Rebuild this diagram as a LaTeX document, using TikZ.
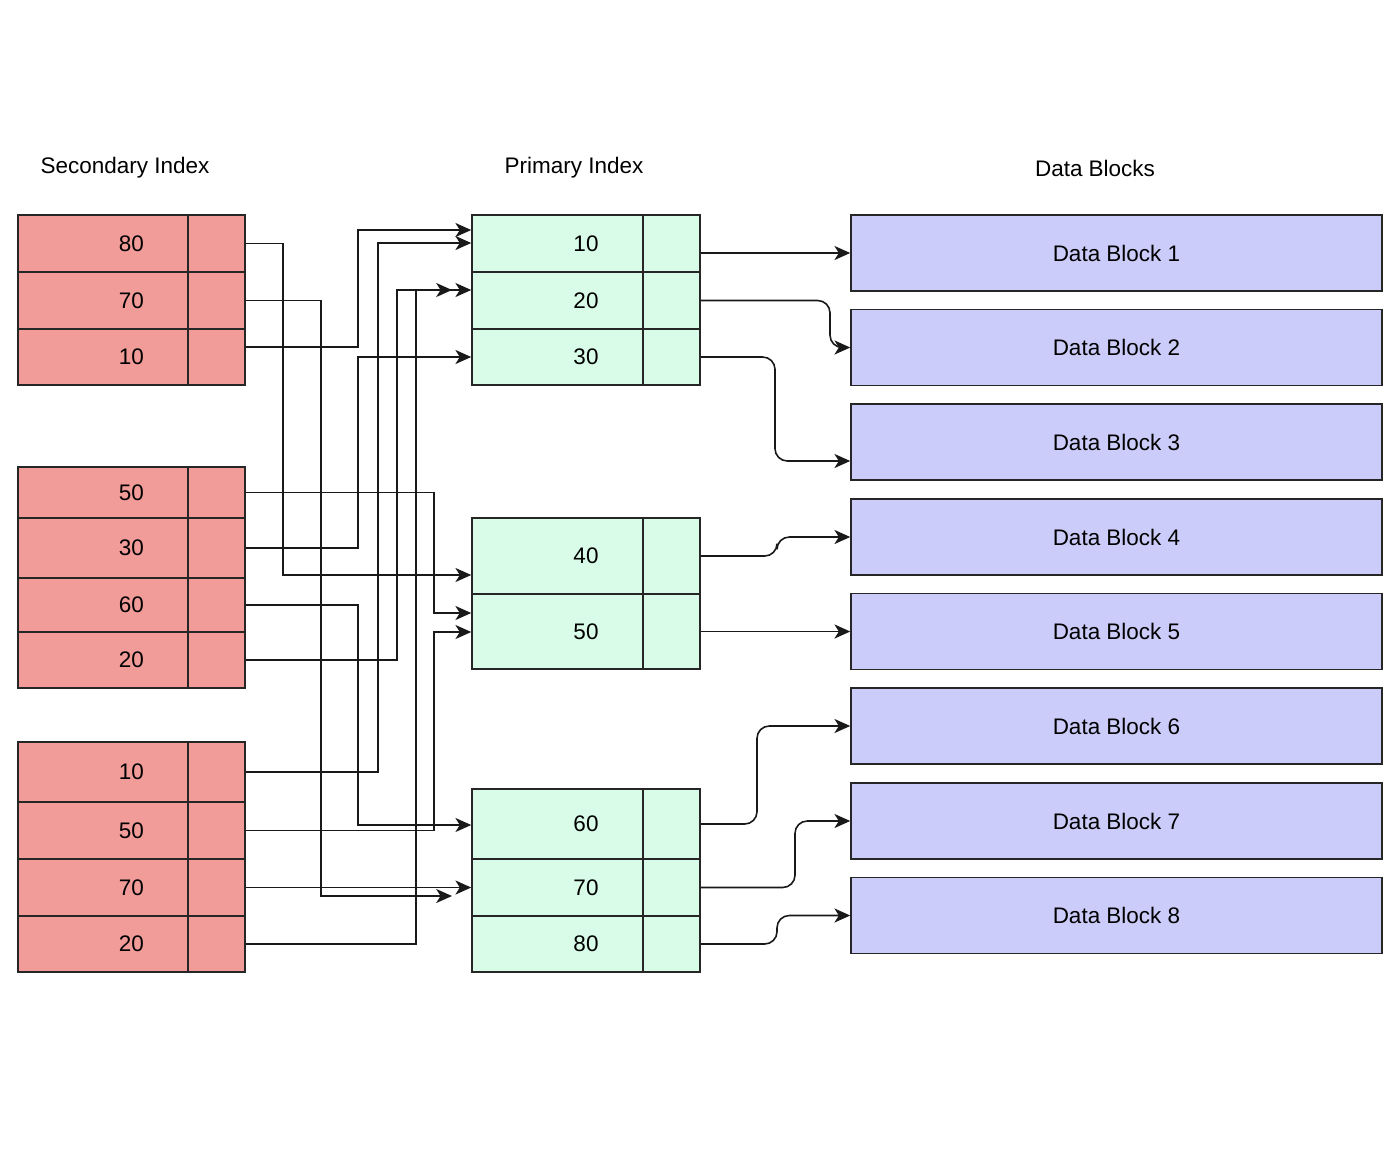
\documentclass[tikz,border=0pt]{standalone}
\usepackage{fontspec}
\setmainfont{Liberation Sans}
\usetikzlibrary{arrows.meta}
\definecolor{secred}{HTML}{F19C99}
\definecolor{prigreen}{HTML}{D9FCE8}
\definecolor{datablue}{HTML}{CCCCFA}
\begin{document}
\begin{tikzpicture}
  [
  x=0.02cm, y=-0.02cm,
  font=\fontsize{12.8}{15}\selectfont, line width=0.9pt,
  seckey/.style={rectangle, inner sep=0pt, minimum width=227*0.2mm, draw=black!85, fill=secred},
  secptr/.style={rectangle, inner sep=0pt, minimum width=57*0.2mm, draw=black!85, fill=secred},
  prikey/.style={rectangle, inner sep=0pt, minimum width=228*0.2mm, draw=black!85, fill=prigreen},
  priptr/.style={rectangle, inner sep=0pt, minimum width=57*0.2mm, draw=black!85, fill=prigreen},
  datablock/.style={rectangle, inner sep=0pt, minimum width=531*0.2mm, minimum height=76*0.2mm, draw=black!85, fill=datablue},
  heading/.style={inner sep=0pt},
  link/.style={draw=black!90, line width=0.9pt, -{Stealth[length=9pt, width=8pt, inset=2.5pt]}},
  elbow/.style={link, rounded corners=7pt}
  ]
\useasboundingbox (0,0) rectangle (1400,1150);

\node[heading] (sechead) at (125,168) {Secondary Index};
\node[heading] (prihead) at (574,168) {Primary Index};
\node[heading] (datahead) at (1095,168) {Data Blocks};

% secondary index
\foreach \k/\y/\h in {80/243.5/57, 70/300.5/57, 10/357/56} {
  \node[seckey, minimum height=\h*0.2mm] (sa\k) at (131.5,\y) {\k};
  \node[secptr, minimum height=\h*0.2mm] (sa\k p) at (216.5,\y) {};
}
\foreach \k/\y/\h in {50/492.5/51, 30/548/60, 60/605/54, 20/660/56} {
  \node[seckey, minimum height=\h*0.2mm] (sb\k) at (131.5,\y) {\k};
  \node[secptr, minimum height=\h*0.2mm] (sb\k p) at (216.5,\y) {};
}
\foreach \k/\y/\h in {10/772/60, 50/830.5/57, 70/887.5/57, 20/944/56} {
  \node[seckey, minimum height=\h*0.2mm] (sc\k) at (131.5,\y) {\k};
  \node[secptr, minimum height=\h*0.2mm] (sc\k p) at (216.5,\y) {};
}

% primary index
\foreach \k/\y/\h in {10/243.5/57, 20/300.5/57, 30/357/56, 40/556/76, 50/631.5/75, 60/824/70, 70/887.5/57, 80/944/56} {
  \node[prikey, minimum height=\h*0.2mm] (p\k) at (586,\y) {\k};
  \node[priptr, minimum height=\h*0.2mm] (p\k p) at (671.5,\y) {};
}

% data blocks
\foreach \b/\y in {1/253, 2/347.5, 3/442, 4/537, 5/631.5, 6/726, 7/821, 8/915.5} {
  \node[datablock] (db\b) at (1116.5,\y) {Data Block \b};
}

\coordinate (s70tip) at (452,896);
\coordinate (s20tip) at (452,290);

\draw[link] (sa80.east) -| (283,575) -- (p40.west |- 0,575);
\draw[link] (sa70.east) -| (321,896) -- (s70tip);
\draw[link] (sa10.east |- 0,347) -| (358,230) -- (p10.west |- 0,230);
\draw[link] (sb50.east) -| (434,613) -- (p50.west |- 0,613);
\draw[link] (sb30.east) -| (358,357) -- (p30.west);
\draw[link] (sb60.east) -| (358,825) -- (p60.west |- 0,825);
\draw[link] (sb20.east) -| (397,290) -- (s20tip);
\draw[link] (sc10.east) -| (378,243) -- (p10.west |- 0,243);
\draw[link] (sc50.east) -| (434,632) -- (p50.west |- 0,632);
\draw[link] (sc70.east) -- (p70.west |- sc70.east);
\draw[link] (sc20.east) -| (416,290) -- (p20.west |- 0,290);

\draw[link] (p10.east |- db1.west) -- (db1.west);
\draw[elbow] (p20.east) -| (830,347.5) -- (db2.west);
\draw[elbow] (p30.east) -| (775,461) -- (db3.west |- 0,461);
\draw[elbow] (p40.east) -| (777,537) -- (db4.west);
\draw[link] (p50.east) -- (db5.west);
\draw[elbow] (p60.east) -| (757,726) -- (db6.west);
\draw[elbow] (p70.east) -| (795,821) -- (db7.west);
\draw[elbow] (p80.east) -| (777,915.5) -- (db8.west);
\end{tikzpicture}
\end{document}
